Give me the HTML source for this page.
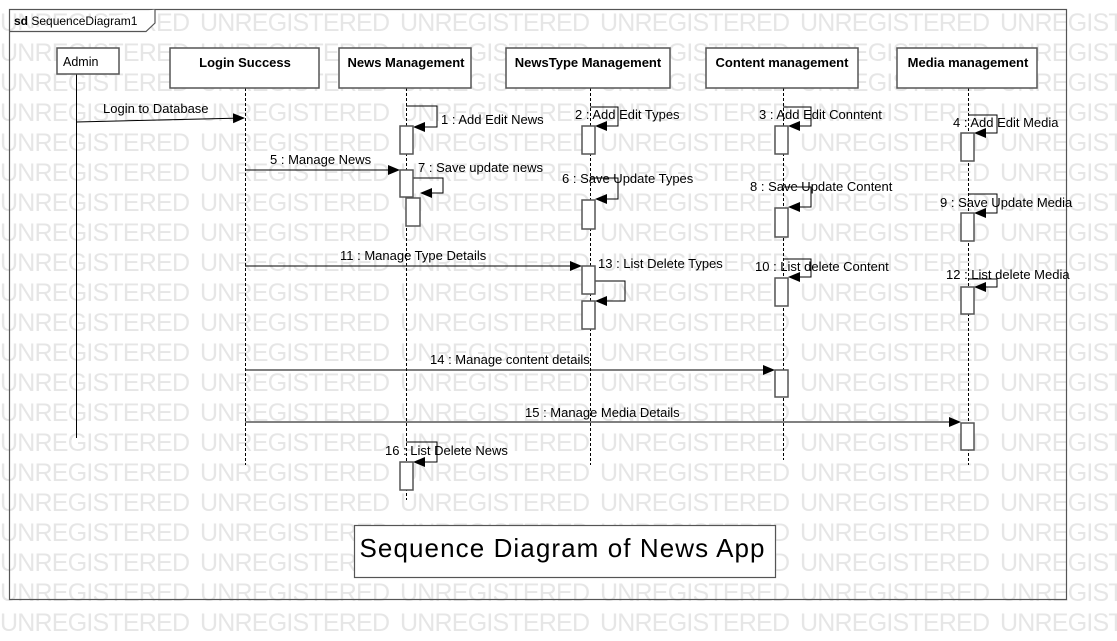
<!DOCTYPE html>
<html><head><meta charset="utf-8"><style>
html,body{margin:0;padding:0;background:#fff;width:1117px;height:641px;overflow:hidden}
svg{display:block;font-family:"Liberation Sans",sans-serif}
</style></head><body>
<svg width="1117" height="641" viewBox="0 0 1117 641" xmlns="http://www.w3.org/2000/svg">
<defs>
<marker id="a" markerWidth="12" markerHeight="10" refX="11" refY="5" orient="auto" markerUnits="userSpaceOnUse"><path d="M0,0 L12,5 L0,10 z" fill="#000"/></marker>
<g id="w"><text x="0" textLength="190">UNREGISTERED</text><text x="200" textLength="190">UNREGISTERED</text><text x="400" textLength="190">UNREGISTERED</text><text x="600" textLength="190">UNREGISTERED</text><text x="800" textLength="190">UNREGISTERED</text><text x="1000" textLength="190">UNREGISTERED</text></g>
</defs>
<g fill="#e6e6e6" font-size="25">
<use href="#w" y="31"/><use href="#w" y="61"/><use href="#w" y="91"/><use href="#w" y="121"/><use href="#w" y="151"/><use href="#w" y="181"/><use href="#w" y="211"/><use href="#w" y="241"/><use href="#w" y="271"/><use href="#w" y="301"/><use href="#w" y="331"/><use href="#w" y="361"/><use href="#w" y="391"/><use href="#w" y="421"/><use href="#w" y="451"/><use href="#w" y="481"/><use href="#w" y="511"/><use href="#w" y="541"/><use href="#w" y="571"/><use href="#w" y="601"/><use href="#w" y="631"/>
</g>
<g fill="none" stroke="#555" stroke-width="1.2">
<rect x="9.5" y="9.5" width="1057" height="590"/>
<path d="M9.5,31.5 H146 L155,23 V9.5" fill="#fff"/>
</g>
<text x="14" y="25" font-size="12"><tspan font-weight="bold">sd</tspan> SequenceDiagram1</text>
<g stroke="#000" stroke-width="1" fill="none">
<line x1="76.5" y1="74" x2="76.5" y2="438"/>
<g stroke-dasharray="3,2">
<line x1="245.5" y1="88" x2="245.5" y2="465"/>
<line x1="406.5" y1="88" x2="406.5" y2="500"/>
<line x1="590.5" y1="88" x2="590.5" y2="465"/>
<line x1="783.5" y1="88" x2="783.5" y2="460"/>
<line x1="968.5" y1="88" x2="968.5" y2="465"/>
</g>
</g>
<g fill="#fff" stroke="#555" stroke-width="1.5">
<rect x="57" y="48" width="62" height="26"/>
<rect x="170" y="48" width="149" height="40"/>
<rect x="339" y="48" width="132" height="40"/>
<rect x="506" y="48" width="164" height="40"/>
<rect x="706" y="48" width="152" height="40"/>
<rect x="897" y="48" width="140" height="40"/>
</g>
<g font-size="13">
<text x="63" y="66" font-size="12.5">Admin</text>
<g font-weight="bold" text-anchor="middle">
<text x="245" y="67">Login Success</text>
<text x="406" y="67">News Management</text>
<text x="588" y="67">NewsType Management</text>
<text x="782" y="67">Content management</text>
<text x="968" y="67">Media management</text>
</g>
</g>
<g stroke="#000" stroke-width="1" fill="none" marker-end="url(#a)">
<path d="M406,106 H437 V127 H414"/>
<path d="M413,178 H443 V193 H421"/>
<path d="M590,107 H618 V126 H596"/>
<path d="M590,178 H618 V199 H596"/>
<path d="M595,281 H625 V301 H596"/>
<path d="M783,107 H811 V126 H789"/>
<path d="M783,187 H811 V207 H789"/>
<path d="M783,259 H811 V277 H789"/>
<path d="M968,115 H997 V133 H975"/>
<path d="M968,194 H997 V213 H975"/>
<path d="M968,279 H997 V287 H975"/>
<path d="M406,442 H437 V462 H414"/>
<path d="M76,122 L244,118"/>
<path d="M245,170 H399"/>
<path d="M245,266 H581"/>
<path d="M245,370 H774"/>
<path d="M245,422 H960"/>
</g>
<g fill="#fff" stroke="#555" stroke-width="1.5">
<rect x="400" y="126" width="13" height="28"/>
<rect x="400" y="170" width="13" height="27"/>
<rect x="406" y="198" width="14" height="28"/>
<rect x="582" y="126" width="13" height="28"/>
<rect x="582" y="200" width="13" height="29"/>
<rect x="582" y="266" width="13" height="28"/>
<rect x="582" y="301" width="13" height="28"/>
<rect x="775" y="126" width="13" height="28"/>
<rect x="775" y="208" width="13" height="29"/>
<rect x="775" y="278" width="13" height="28"/>
<rect x="775" y="370" width="13" height="27"/>
<rect x="961" y="133" width="13" height="28"/>
<rect x="961" y="213" width="13" height="28"/>
<rect x="961" y="287" width="13" height="27"/>
<rect x="961" y="423" width="13" height="27"/>
<rect x="400" y="462" width="13" height="28"/>
</g>
<g font-size="13" fill="#000">
<text x="103" y="113">Login to Database</text>
<text x="441" y="124">1 : Add Edit News</text>
<text x="270" y="164">5 : Manage News</text>
<text x="418" y="172">7 : Save update news</text>
<text x="575" y="119">2 : Add Edit Types</text>
<text x="562" y="183">6 : Save Update Types</text>
<text x="340" y="260">11 : Manage Type Details</text>
<text x="598" y="268">13 : List Delete Types</text>
<text x="759" y="119">3 : Add Edit Conntent</text>
<text x="750" y="191">8 : Save Update Content</text>
<text x="755" y="271">10 : List delete Content</text>
<text x="953" y="127">4 : Add Edit Media</text>
<text x="940" y="207">9 : Save Update Media</text>
<text x="946" y="279">12 : List delete Media</text>
<text x="430" y="364">14 : Manage content details</text>
<text x="525" y="417">15 : Manage Media Details</text>
<text x="385" y="455">16 : List Delete News</text>
</g>
<rect x="354.5" y="525.5" width="421" height="52" fill="#fff" stroke="#555" stroke-width="1.2"/>
<text x="562" y="557" font-size="26" text-anchor="middle" textLength="405">Sequence Diagram of News App</text>
</svg>
</body></html>
